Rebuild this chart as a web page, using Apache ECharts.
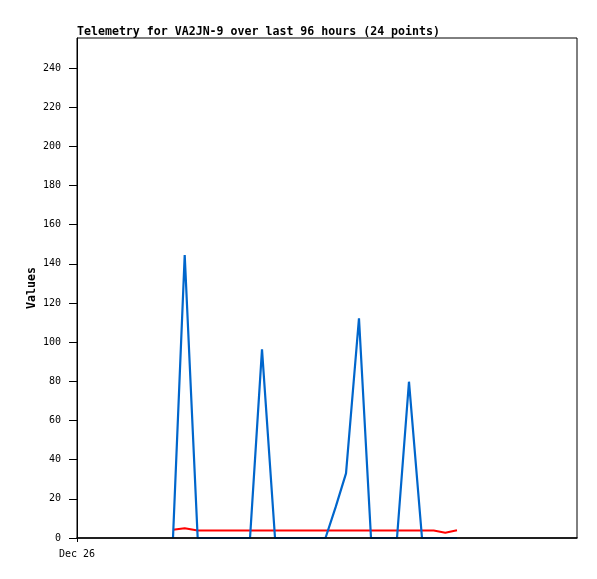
<!DOCTYPE html>
<html>
<head>
<meta charset="utf-8">
<script src="https://cdn.jsdelivr.net/npm/echarts@6/dist/echarts.min.js"></script>
<style>html,body{margin:0;padding:0;background:#fff}#c{width:597px;height:579px}</style>
</head>
<body>
<div id="c"></div>
<script>
const titleText = 'Telemetry for VA2JN-9 over last 96 hours (24 points)';
const yAxisName = 'Values';
const xStartLabel = 'Dec 26';
// hours since Dec 26 00:00
const hours = [18.43, 20.68, 23.17, 25.67, 28.17, 30.66, 33.22, 35.52, 38.02, 40.44, 42.85, 45.29,
               47.71, 49.69, 51.65, 54.14, 56.45, 58.94, 61.44, 63.74, 66.24, 68.49, 70.71, 72.96];
const blueValues = [0, 144.5, 0, 0, 0, 0, 0, 96.3, 0, 0, 0, 0,
                    0, 16, 33, 112.2, 0, 0, 0, 79.8, 0, 0, 0, 0];
const redValues = [4.2, 5.0, 3.8, 3.8, 3.8, 3.8, 3.8, 3.8, 3.8, 3.8, 3.8, 3.8,
                   3.8, 3.8, 3.8, 3.8, 3.8, 3.8, 3.8, 3.8, 3.8, 3.8, 2.7, 4.0];
const yTicks = [0, 20, 40, 60, 80, 100, 120, 140, 160, 180, 200, 220, 240];

const font = '"DejaVu Sans Mono", "Liberation Mono", monospace';
const chart = echarts.init(document.getElementById('c'), null, {renderer: 'canvas'});
chart.setOption({
  animation: false,
  backgroundColor: '#fff',
  title: {
    text: titleText, left: 72, top: 21,
    textStyle: {fontFamily: font, fontSize: 11.6, fontWeight: 'bold', color: '#000'}
  },
  grid: {left: 77, top: 38, right: 20, bottom: 41, show: true, borderColor: '#000', borderWidth: 1, backgroundColor: 'transparent'},
  xAxis: {
    type: 'value', min: 0, max: 96, z: 10,
    splitLine: {show: false},
    axisLine: {show: true, lineStyle: {color: '#000', width: 1.5}},
    axisTick: {show: true, customValues: [0], length: 4, lineStyle: {color: '#000'}},
    axisLabel: {customValues: [0], formatter: v => v === 0 ? xStartLabel : '', fontFamily: font, fontSize: 10, color: '#000', margin: 11}
  },
  yAxis: {
    type: 'value', min: 0, max: 255.3, z: 10,
    name: yAxisName, nameLocation: 'middle', nameGap: 39, nameRotate: 90, nameMoveOverlap: false,
    nameTextStyle: {fontFamily: font, fontSize: 11.6, fontWeight: 'bold', color: '#000'},
    splitLine: {show: false},
    axisLine: {show: true, lineStyle: {color: '#000', width: 1}},
    axisTick: {show: true, customValues: yTicks, length: 8, lineStyle: {color: '#000'}},
    axisLabel: {customValues: yTicks, fontFamily: font, fontSize: 10, color: '#000', margin: 16}
  },
  series: [
    {type: 'line', data: hours.map((h, i) => [h, redValues[i]]), showSymbol: false, symbol: 'none',
     lineStyle: {color: '#ff0000', width: 2}, itemStyle: {color: '#ff0000'}},
    {type: 'line', data: hours.map((h, i) => [h, blueValues[i]]), showSymbol: false, symbol: 'none',
     lineStyle: {color: '#0066cc', width: 2.2}, itemStyle: {color: '#0066cc'}}
  ]
});
</script>
</body>
</html>
